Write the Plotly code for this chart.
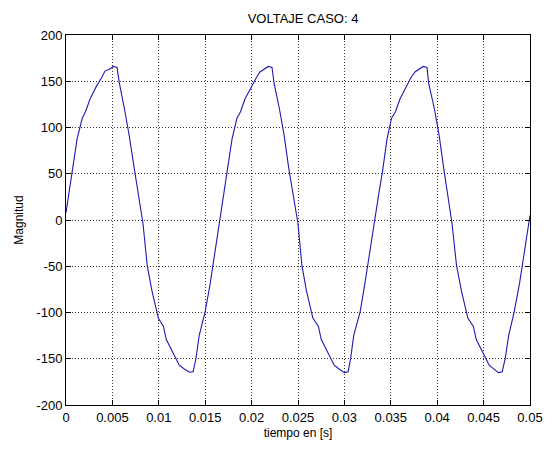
import plotly.graph_objects as go

# time [s] and voltage samples (three cycles)
tiempo = [
    0.0000, 0.0003, 0.0007, 0.0012, 0.00175, 0.0021, 0.0026, 0.0033, 0.00385, 0.0042,
    0.0047, 0.0051, 0.0055, 0.00575, 0.0063, 0.0068, 0.00735, 0.00785, 0.0083, 0.00875,
    0.00925, 0.00995, 0.0105, 0.0108, 0.0115, 0.0122, 0.01275, 0.0133, 0.0137, 0.0140,
    0.01435, 0.0150, 0.01555, 0.01607, 0.0166,
    0.0170, 0.0174, 0.0179, 0.01842, 0.0188, 0.0193, 0.0200, 0.02052, 0.0209,
    0.0214, 0.0218, 0.0222, 0.02242, 0.0230, 0.0235, 0.0240, 0.0245, 0.0250, 0.02542,
    0.0259, 0.0266, 0.0272, 0.0275, 0.0282, 0.0289, 0.02942, 0.0300, 0.0304, 0.03067,
    0.0310, 0.0317, 0.03222, 0.03274, 0.0333,
    0.0337, 0.0341, 0.0346, 0.03508, 0.0355, 0.0360, 0.0367, 0.03718, 0.0376,
    0.0381, 0.0385, 0.0389, 0.03908, 0.0397, 0.0402, 0.0407, 0.0412, 0.0416, 0.04208,
    0.0426, 0.0433, 0.0439, 0.0442, 0.0449, 0.0456, 0.04608, 0.0466, 0.0470, 0.04733,
    0.0477, 0.0483, 0.04888, 0.0494, 0.0500,
]
voltaje = [
    8, 28, 52, 88, 110, 117, 131, 145, 154, 161,
    163, 166, 165, 148, 120, 92, 56, 24, -4, -49,
    -76, -106, -115, -129, -143, -157, -161, -164.5, -164, -150,
    -125, -99, -68, -33, 3,
    28, 52, 88, 110, 117, 131, 145, 154, 160,
    163, 166, 165, 148, 120, 92, 56, 24, -4, -49,
    -76, -106, -115, -129, -143, -157, -161, -165, -164, -150,
    -125, -99, -68, -33, 3,
    28, 52, 88, 110, 117, 131, 145, 154, 160,
    163, 166, 165, 148, 120, 92, 56, 24, -4, -49,
    -76, -106, -115, -129, -143, -157, -161, -165, -164, -150,
    -125, -99, -68, -33, 5,
]

x_ticks = [0, 0.005, 0.01, 0.015, 0.02, 0.025, 0.03, 0.035, 0.04, 0.045, 0.05]
x_ticklabels = ["0", "0.005", "0.01", "0.015", "0.02", "0.025", "0.03", "0.035", "0.04", "0.045", "0.05"]
y_ticks = [-200, -150, -100, -50, 0, 50, 100, 150, 200]
y_ticklabels = ["-200", "-150", "-100", "-50", "0", "50", "100", "150", "200"]

FONT = "Liberation Sans"

fig = go.Figure()
fig.add_trace(go.Scatter(
    x=tiempo, y=voltaje, mode="lines",
    line=dict(color="#1c1cb0", width=1.1),
    showlegend=False,
))

axis_common = dict(
    showline=True, linecolor="black", linewidth=1, mirror="ticks",
    ticks="inside", ticklen=5, tickcolor="black", tickwidth=1,
    showgrid=True, gridcolor="#333333", gridwidth=1, griddash="1px,2px",
    zeroline=False,
    tickfont=dict(family=FONT, size=13, color="black"),
)

fig.update_xaxes(
    range=[0, 0.05], tickvals=x_ticks, ticktext=x_ticklabels,
    title=dict(text="tiempo en [s]", font=dict(family=FONT, size=12, color="black"), standoff=5),
    **axis_common,
)
fig.update_yaxes(
    range=[-200, 200], tickvals=y_ticks, ticktext=y_ticklabels,
    title=dict(text="Magnitud", font=dict(family=FONT, size=12, color="black"), standoff=10),
    **axis_common,
)

fig.update_layout(
    width=555, height=450,
    margin=dict(l=66, r=13, t=35, b=41),
    paper_bgcolor="white", plot_bgcolor="white",
    title=dict(text="VOLTAJE CASO: 4", x=0.546, xanchor="center", y=0.96, yanchor="middle",
               font=dict(family=FONT, size=13, color="black")),
)

fig.write_html("out.html")
